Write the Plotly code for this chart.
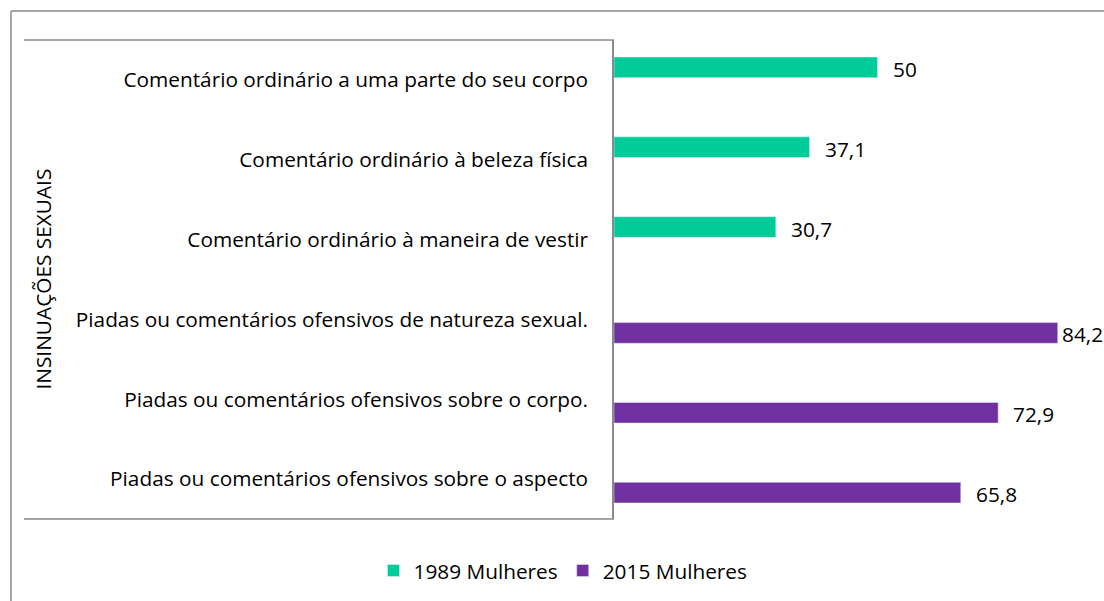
import plotly.graph_objects as go

categories = [
    "Comentário ordinário a uma parte do seu corpo",
    "Comentário ordinário à beleza física",
    "Comentário ordinário à maneira de vestir",
    "Piadas ou comentários ofensivos de natureza sexual.",
    "Piadas ou comentários ofensivos sobre o corpo.",
    "Piadas ou comentários ofensivos sobre o aspecto",
]
group_label = "INSINUAÇÕES SEXUAIS"
series_names = ["1989 Mulheres", "2015 Mulheres"]
values_1989 = [50, 37.1, 30.7, None, None, None]
values_2015 = [None, None, None, 84.2, 72.9, 65.8]

GREEN = "#00CC99"
PURPLE = "#7030A0"
GRAY = "#8A8A8A"
FONT = "Open Sans"
FS = 20.8

W, H = 1104, 601
L, T, B = 614, 40, 82
pw = W - L
ph = H - T - B
PX_PER_UNIT = 5.27

def px_x(p):
    return (p - L) / pw

def px_y(p):
    return (H - B - p) / ph

def fmt(v):
    return f"{v:g}".replace(".", ",")

fig = go.Figure()
fig.add_trace(go.Bar(
    y=categories, x=values_1989, name=series_names[0], orientation="h",
    marker_color=GREEN, width=0.259, offset=-0.287,
))
fig.add_trace(go.Bar(
    y=categories, x=values_2015, name=series_names[1], orientation="h",
    marker_color=PURPLE, width=0.259, offset=0.04,
))

annotations = []
for vals, ysh in ((values_1989, 11), (values_2015, -15)):
    for c, v in zip(categories, vals):
        if v is not None:
            label = fmt(v)
            # keep the label inside the chart, like the original pushes it inward
            approx_w = 0.53 * FS * len(label)
            room = W - 3 - (L + v * PX_PER_UNIT) - approx_w
            shift = max(2, min(13, room))
            annotations.append(dict(x=v, y=c, xref="x", yref="y", text=label,
                                    showarrow=False, xanchor="left", xshift=shift, yshift=ysh,
                                    font=dict(family=FONT, size=FS, color="#000")))
annotations.append(dict(x=px_x(42), y=0.5, xref="paper", yref="paper", text=group_label,
                        textangle=-90, showarrow=False, xanchor="center", yanchor="middle",
                        font=dict(family=FONT, size=FS, color="#000")))

shapes = [
    dict(type="line", xref="paper", yref="paper", x0=px_x(11), x1=px_x(11), y0=px_y(11), y1=px_y(700),
         line=dict(color=GRAY, width=1.5)),
    dict(type="line", xref="paper", yref="paper", x0=px_x(11), x1=px_x(1200), y0=px_y(11), y1=px_y(11),
         line=dict(color=GRAY, width=1.5)),
    dict(type="line", xref="paper", yref="paper", x0=px_x(24), x1=0, y0=1, y1=1,
         line=dict(color=GRAY, width=1.5)),
    dict(type="line", xref="paper", yref="paper", x0=px_x(24), x1=0, y0=0, y1=0,
         line=dict(color=GRAY, width=1.5)),
]

fig.update_layout(
    width=W, height=H,
    margin=dict(l=L, r=0, t=T, b=B, pad=0),
    paper_bgcolor="white", plot_bgcolor="white",
    barmode="overlay",
    font=dict(family=FONT, size=FS, color="#000"),
    xaxis=dict(range=[0, pw / PX_PER_UNIT], visible=False, fixedrange=True),
    yaxis=dict(type="category", categoryorder="array", categoryarray=categories,
               autorange="reversed", showline=True, linecolor=GRAY, linewidth=1.5,
               showgrid=False, ticks="", ticklabelstandoff=20,
               tickfont=dict(family=FONT, size=FS, color="#000")),
    showlegend=True,
    legend=dict(orientation="h", x=px_x(563), y=px_y(571), xanchor="center", yanchor="middle",
                font=dict(family=FONT, size=FS, color="#000"), itemwidth=30,
                bgcolor="rgba(0,0,0,0)"),
    annotations=annotations,
    shapes=shapes,
)

fig.write_html("out.html")
